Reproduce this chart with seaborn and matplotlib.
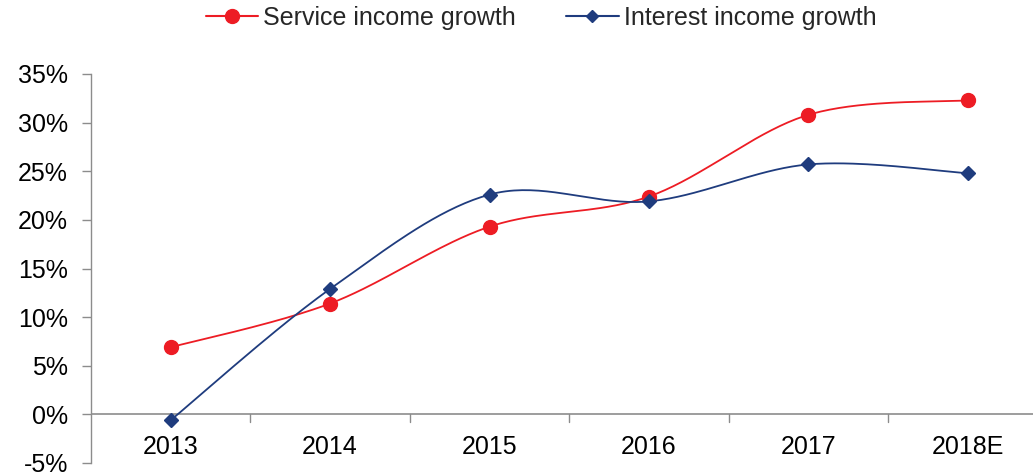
import numpy as np
import pandas as pd
import matplotlib
matplotlib.use("Agg")
import matplotlib.pyplot as plt
import seaborn as sns
from matplotlib.lines import Line2D

categories = ["2013", "2014", "2015", "2016", "2017", "2018E"]
service_growth = [6.9, 11.4, 19.3, 22.4, 30.8, 32.3]
interest_growth = [-0.6, 12.9, 22.6, 21.9, 25.7, 24.8]
y_ticks = [-5, 0, 5, 10, 15, 20, 25, 30, 35]

sns.set_theme(style="white")
plt.rcParams['font.family'] = ['Liberation Sans', 'DejaVu Sans']

RED = "#ED1C24"
NAVY = "#1F3C7E"
GREY = "#8C8C8C"
FS = 18


def smooth(xs, ys, n=40):
    # Bezier smoothing through the data points (like Excel's smoothed line)
    xs = np.asarray(xs, float)
    ys = np.asarray(ys, float)
    px = np.concatenate([[xs[0]], xs, [xs[-1]]])
    py = np.concatenate([[ys[0]], ys, [ys[-1]]])
    outx, outy = [], []
    for i in range(1, len(px) - 2):
        p0 = np.array([px[i - 1], py[i - 1]])
        p1 = np.array([px[i], py[i]])
        p2 = np.array([px[i + 1], py[i + 1]])
        p3 = np.array([px[i + 2], py[i + 2]])
        c1 = p1 + (p2 - p0) / 6
        c2 = p2 - (p3 - p1) / 6
        t = np.linspace(0, 1, n)[:, None]
        pts = ((1 - t) ** 3) * p1 + 3 * ((1 - t) ** 2) * t * c1 + 3 * (1 - t) * t ** 2 * c2 + t ** 3 * p2
        if i > 1:
            pts = pts[1:]
        outx.extend(pts[:, 0])
        outy.extend(pts[:, 1])
    return np.array(outx), np.array(outy)


fig = plt.figure(figsize=(10.33, 4.74), dpi=100)
ax = fig.add_axes([91 / 1033, 1 - 463 / 474, (6 * 159.4) / 1033, (463 - 74) / 474])

x = np.arange(len(categories))
for vals, color, marker, ms in [
    (service_growth, RED, "o", 10),
    (interest_growth, NAVY, "D", 7),
]:
    sx, sy = smooth(x, vals)
    sns.lineplot(x=sx, y=sy, ax=ax, color=color, lw=1.3, sort=False, estimator=None)
    ax.plot(x, vals, linestyle="none", marker=marker, markersize=ms, color=color,
            markeredgecolor=color, zorder=5)

handles = [
    Line2D([], [], color=RED, lw=1.5, marker="o", markersize=10),
    Line2D([], [], color=NAVY, lw=1.5, marker="D", markersize=6),
]
fig.legend(handles, ["Service income growth", "Interest income growth"], loc="upper center",
           bbox_to_anchor=(541 / 1033, 1.035), ncol=2, frameon=False, fontsize=FS,
           handlelength=2.1, handletextpad=0.2, columnspacing=2.0)

ax.set_xlim(-0.5, len(categories) - 0.5)
ax.set_ylim(-5, 35)
ax.set_yticks(y_ticks)
ax.set_yticklabels([f"{v}%" for v in y_ticks], fontsize=FS, color="black")

for s in ["top", "right", "bottom"]:
    ax.spines[s].set_visible(False)
ax.spines["left"].set_color(GREY)
ax.spines["left"].set_linewidth(1.0)
ax.axhline(0, color=GREY, lw=1.2, zorder=1)
ax.set_xticks([])
for b in np.arange(0.5, len(categories) - 0.5, 1.0):
    ax.plot([b, b], [0, -0.75], color=GREY, lw=1.0, clip_on=False)
for xi, lab in zip(x, categories):
    ax.text(xi, -3.4, lab, ha="center", va="center", fontsize=FS, color="black")

ax.tick_params(axis="y", direction="out", length=6.5, color=GREY, width=1.0, left=True, pad=10)
ax.set_xlabel("")
ax.set_ylabel("")

fig.savefig("out.png", dpi=100)
